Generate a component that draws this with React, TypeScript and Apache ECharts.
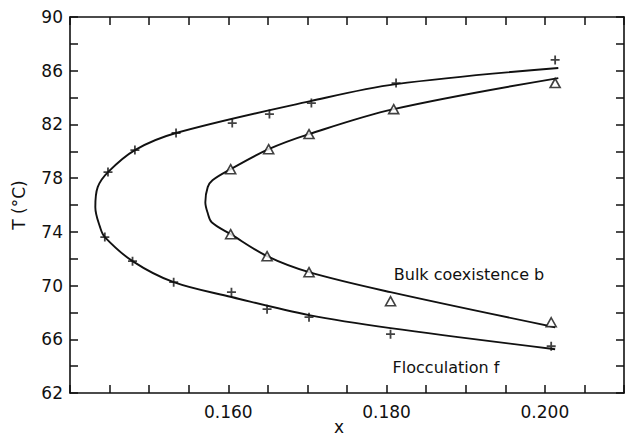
import React, { useEffect, useRef } from 'react';
import * as echarts from 'echarts';

// Flocculation f ("+" markers)
const flocUpperX = [0.1448, 0.1482, 0.1534, 0.1605, 0.1652, 0.1705, 0.1812, 0.2013];
const flocUpperT = [78.45, 80.09, 81.36, 82.1, 82.77, 83.59, 85.08, 86.8];
const flocLowerX = [0.1444, 0.1479, 0.1531, 0.1604, 0.1649, 0.1702, 0.1805, 0.2008];
const flocLowerT = [73.61, 71.82, 70.25, 69.51, 68.24, 67.65, 66.38, 65.48];

// Bulk coexistence b (triangle markers)
const bulkUpperX = [0.1603, 0.1651, 0.1702, 0.1809, 0.2013];
const bulkUpperT = [78.67, 80.16, 81.28, 83.14, 85.08];
const bulkLowerX = [0.1603, 0.1649, 0.1702, 0.1805, 0.2008];
const bulkLowerT = [73.83, 72.19, 71.0, 68.84, 67.27];

// Fitted curves
const curveFX = [0.2017, 0.1812, 0.1705, 0.1534, 0.1482, 0.1448, 0.1435, 0.1432, 0.1438, 0.1444, 0.1479, 0.1531, 0.1604, 0.1702, 0.1805, 0.2013];
const curveFT = [86.2, 85.0, 83.75, 81.36, 80.09, 78.45, 77.33, 75.84, 74.35, 73.61, 71.82, 70.25, 69.15, 67.8, 66.83, 65.26];
const curveBX = [0.2017, 0.1809, 0.1702, 0.1651, 0.1603, 0.158, 0.1574, 0.1571, 0.1574, 0.1579, 0.1603, 0.1649, 0.1702, 0.1805, 0.2013];
const curveBT = [85.45, 83.14, 81.28, 80.16, 78.67, 77.85, 77.33, 76.21, 75.4, 74.72, 73.83, 72.19, 71.0, 69.51, 66.9];

const xTickLabels = ['0.160', '0.180', '0.200'];
const yTickLabels = ['62', '66', '70', '74', '78', '82', '86', '90'];

const xTitle = 'x';
const yTitle = 'T (°C)';
const labelBulk = 'Bulk coexistence b';
const labelFloc = 'Flocculation f';

const zip = (xs: number[], ys: number[]) => xs.map((x, i) => [x, ys[i]]);

const PLUS = 'path://M4,0H6V4H10V6H6V10H4V6H0V4H4Z';
const INK = '#111111';
const FONT = 'DejaVu Sans';

export default function App() {
  const ref = useRef<HTMLDivElement>(null);
  useEffect(() => {
    if (!ref.current) return;
    const chart = echarts.init(ref.current, null, { renderer: 'svg' });
    const axisLine = { show: true, onZero: false, lineStyle: { color: INK, width: 1.6 } };
    const axisTick = { show: true, inside: true, length: 8, lineStyle: { color: INK, width: 1.5 } };
    const xBase = { type: 'value', min: 0.14, max: 0.21, interval: 0.005, splitLine: { show: false }, axisLine, axisTick };
    const yBase = { type: 'value', min: 62, max: 90, interval: 2, splitLine: { show: false }, axisLine, axisTick };
    chart.setOption({
      animation: false,
      backgroundColor: '#ffffff',
      grid: { left: 70, right: 1, top: 17, bottom: 44 },
      xAxis: [
        {
          ...xBase,
          position: 'bottom',
          axisLabel: {
            formatter: (v: number) => {
              const s = (Math.round(v * 1000) / 1000).toFixed(3);
              return xTickLabels.includes(s) ? s : '';
            },
            fontSize: 17,
            fontFamily: FONT,
            color: INK,
            margin: 10,
          },
        },
        { ...xBase, position: 'top', axisLabel: { show: false } },
      ],
      yAxis: [
        {
          ...yBase,
          position: 'left',
          name: yTitle,
          nameLocation: 'middle',
          nameGap: 43,
          nameTextStyle: { fontSize: 17, fontFamily: FONT, color: INK },
          axisLabel: {
            formatter: (v: number) => {
              const s = String(Math.round(v));
              return yTickLabels.includes(s) ? s : '';
            },
            fontSize: 17,
            fontFamily: FONT,
            color: INK,
            margin: 7,
          },
        },
        { ...yBase, position: 'right', axisLabel: { show: false } },
      ],
      graphic: [
        { type: 'text', x: 339, y: 427, style: { text: xTitle, font: `17px "${FONT}"`, fill: INK, align: 'center', verticalAlign: 'middle' } },
        { type: 'text', x: 469, y: 274, style: { text: labelBulk, font: `16px "${FONT}"`, fill: INK, align: 'center', verticalAlign: 'middle' } },
        { type: 'text', x: 446, y: 367, style: { text: labelFloc, font: `16px "${FONT}"`, fill: INK, align: 'center', verticalAlign: 'middle' } },
      ],
      series: [
        {
          type: 'line', name: 'f curve', data: zip(curveFX, curveFT), symbol: 'none', smooth: 0.35,
          lineStyle: { color: INK, width: 1.9 }, z: 2,
        },
        {
          type: 'line', name: 'b curve', data: zip(curveBX, curveBT), symbol: 'none', smooth: 0.35,
          lineStyle: { color: INK, width: 1.9 }, z: 2,
        },
        {
          type: 'scatter', name: 'Flocculation f',
          data: [...zip(flocUpperX, flocUpperT), ...zip(flocLowerX, flocLowerT)],
          symbol: PLUS, symbolSize: 9, itemStyle: { color: INK }, z: 3,
        },
        {
          type: 'scatter', name: 'Bulk coexistence b',
          data: [...zip(bulkUpperX, bulkUpperT), ...zip(bulkLowerX, bulkLowerT)],
          symbol: 'triangle', symbolSize: [10, 9],
          itemStyle: { color: '#ffffff', borderColor: INK, borderWidth: 1.6 }, z: 4,
        },
      ],
    });
    return () => chart.dispose();
  }, []);
  return <div ref={ref} style={{ position: 'absolute', left: 0, top: 0, width: 627, height: 437 }} />;
}
